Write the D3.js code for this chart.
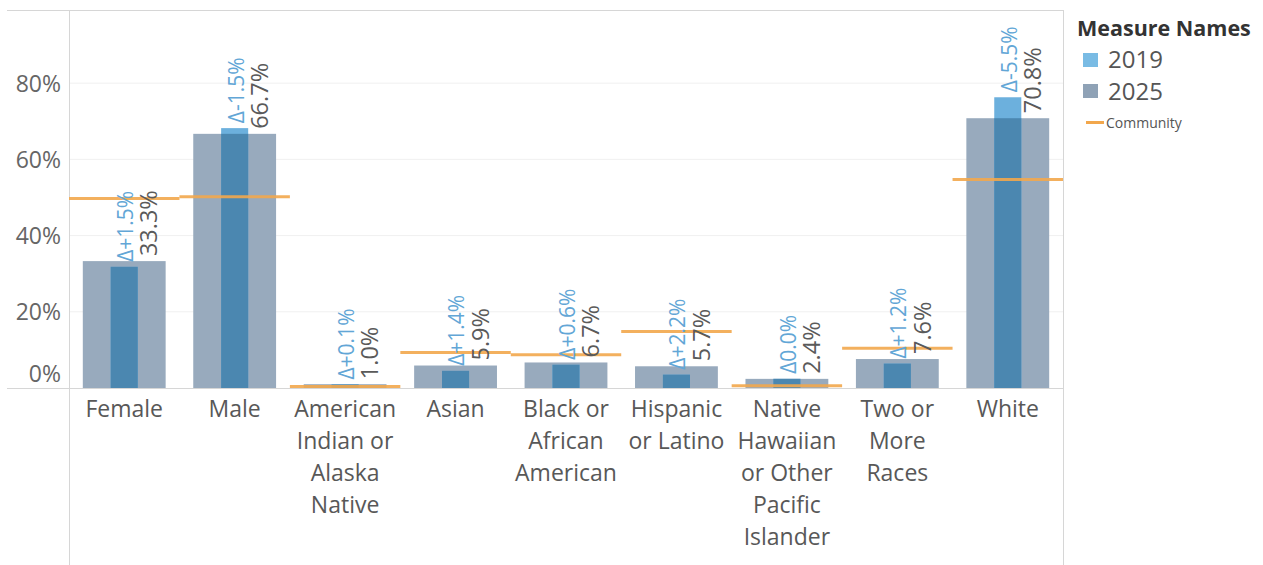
<!DOCTYPE html>
<html>
<head>
<meta charset="utf-8">
<script src="https://cdn.jsdelivr.net/npm/d3@7"></script>
<style>
  body { margin: 0; background: #fff; }
  svg { display: block; font-family: "Open Sans", sans-serif; }
</style>
</head>
<body>
<svg id="chart" width="1263" height="565"></svg>
<script>
// data (percent)
var categories = ['Female', 'Male', 'American\nIndian or\nAlaska\nNative', 'Asian',
	'Black or\nAfrican\nAmerican', 'Hispanic\nor Latino',
	'Native\nHawaiian\nor Other\nPacific\nIslander', 'Two or\nMore\nRaces', 'White'];
var values2025 = [33.3, 66.7, 1.0, 5.9, 6.7, 5.7, 2.4, 7.6, 70.8];
var values2019 = [31.8, 68.2, 0.9, 4.5, 6.1, 3.5, 2.4, 6.4, 76.3];
var community = [49.7, 50.2, 0.4, 9.3, 8.7, 14.8, 0.6, 10.4, 54.7];
var yTicks = [0, 20, 40, 60, 80];
var legendItems = ['2019', '2025'];

var svg = d3.select('#chart');
var plotLeft = 69, plotRight = 1063, plotTop = 10, base = 388;

var x = d3.scaleBand()
	.domain(d3.range(categories.length))
	.range([plotLeft, plotRight])
	.padding(0);
var y = d3.scaleLinear()
	.domain([0, 99.2])
	.range([base, plotTop]);

var bw = x.bandwidth();
var cx = function(i){ return x(i) + bw / 2; };

//gridlines
svg.append('g')
	.selectAll('line')
	.data(yTicks.filter(function(d){ return d > 0; }))
	.enter()
	.append('line')
	.attr('x1', plotLeft).attr('x2', plotRight)
	.attr('y1', function(d){ return y(d); })
	.attr('y2', function(d){ return y(d); })
	.attr('stroke', '#f0f0f0')
	.attr('stroke-width', 1);

//frame lines
var frame = svg.append('g').attr('stroke', '#d6d6d6').attr('stroke-width', 1);
frame.append('line').attr('x1', 7).attr('x2', plotRight).attr('y1', plotTop + 0.5).attr('y2', plotTop + 0.5);
frame.append('line').attr('x1', plotLeft + 0.5).attr('x2', plotLeft + 0.5).attr('y1', plotTop).attr('y2', 565);
frame.append('line').attr('x1', plotRight + 0.5).attr('x2', plotRight + 0.5).attr('y1', plotTop).attr('y2', 565);

//y axis
var yAxis = svg.append('g')
	.attr('transform', 'translate(' + (plotLeft - 8) + ',0)')
	.call(d3.axisLeft(y).tickValues(yTicks).tickSize(0).tickPadding(0)
		.tickFormat(function(d){ return d + '%'; }));
yAxis.select('.domain').remove();
yAxis.selectAll('text')
	.attr('font-family', '"Open Sans", sans-serif')
	.attr('font-size', 23)
	.attr('fill', '#666')
	.attr('dy', function(d){ return d === 0 ? '-0.3em' : '0.35em'; });

//2025 bars
var w25 = bw * 0.75, w19 = bw * 0.245;
svg.append('g')
	.selectAll('rect')
	.data(values2025)
	.enter()
	.append('rect')
	.attr('x', function(d, i){ return cx(i) - w25 / 2; })
	.attr('y', function(d){ return y(d); })
	.attr('width', w25)
	.attr('height', function(d){ return base - y(d); })
	.attr('fill', '#98aabd');

//2019 bars
svg.append('g')
	.selectAll('rect')
	.data(values2019)
	.enter()
	.append('rect')
	.attr('x', function(d, i){ return cx(i) - w19 / 2; })
	.attr('y', function(d){ return y(d); })
	.attr('width', w19)
	.attr('height', function(d){ return base - y(d); })
	.attr('fill', '#6cb0dd');

//overlap part of 2019 inside 2025 looks darker
svg.append('g')
	.selectAll('rect')
	.data(values2019)
	.enter()
	.append('rect')
	.attr('x', function(d, i){ return cx(i) - w19 / 2; })
	.attr('y', function(d, i){ return y(Math.min(d, values2025[i])); })
	.attr('width', w19)
	.attr('height', function(d, i){ return base - y(Math.min(d, values2025[i])); })
	.attr('fill', '#4b87b0');

//baseline
svg.append('line')
	.attr('x1', 7).attr('x2', plotRight)
	.attr('y1', base + 0.5).attr('y2', base + 0.5)
	.attr('stroke', '#d6d6d6');

//community lines
svg.append('g')
	.selectAll('line')
	.data(community)
	.enter()
	.append('line')
	.attr('x1', function(d, i){ return x(i); })
	.attr('x2', function(d, i){ return x(i) + bw; })
	.attr('y1', function(d){ return y(d); })
	.attr('y2', function(d){ return y(d); })
	.attr('stroke', '#f2a74c')
	.attr('stroke-opacity', 0.9)
	.attr('stroke-width', 3);

//labels
function deltaText(i){
	var d = Math.round((values2025[i] - values2019[i]) * 10) / 10;
	if(d === 0) return '\u03940.0%';
	return '\u0394' + (d > 0 ? '+' : '-') + Math.abs(d).toFixed(1) + '%';
}
svg.append('g')
	.selectAll('text')
	.data(values2019)
	.enter()
	.append('text')
	.attr('transform', function(d, i){
		return 'translate(' + (cx(i) + 1.5) + ',' + (y(d) - 5) + ') rotate(-90)';
	})
	.attr('dy', '0.35em')
	.attr('font-size', 21)
	.attr('fill', '#62a6d6')
	.text(function(d, i){ return deltaText(i); });

svg.append('g')
	.selectAll('text')
	.data(values2025)
	.enter()
	.append('text')
	.attr('transform', function(d, i){
		return 'translate(' + (cx(i) + 25) + ',' + (y(d) - 5) + ') rotate(-90)';
	})
	.attr('dy', '0.35em')
	.attr('font-size', 23.5)
	.attr('fill', '#5a5a5a')
	.text(function(d){ return d.toFixed(1) + '%'; });

//category labels
var cat = svg.append('g')
	.selectAll('text')
	.data(categories)
	.enter()
	.append('text')
	.attr('text-anchor', 'middle')
	.attr('font-size', 23)
	.attr('fill', '#585858');
cat.selectAll('tspan')
	.data(function(d, i){ return d.split('\n').map(function(s){ return {s: s, i: i}; }); })
	.enter()
	.append('tspan')
	.attr('x', function(d){ return cx(d.i); })
	.attr('y', function(d, j){ return 417 + j * 32; })
	.text(function(d){ return d.s; });

//legend
var legend = svg.append('g');
legend.append('text')
	.attr('x', 1077).attr('y', 36)
	.attr('font-size', 21.5)
	.attr('font-weight', 'bold')
	.attr('fill', '#333')
	.text('Measure Names');
var swatchColors = ['#79bbe4', '#8fa2b6'];
legend.selectAll('rect')
	.data(legendItems)
	.enter()
	.append('rect')
	.attr('x', 1083)
	.attr('y', function(d, i){ return 53 + i * 31; })
	.attr('width', 15).attr('height', 14)
	.attr('fill', function(d, i){ return swatchColors[i]; });
legend.selectAll('text.item')
	.data(legendItems)
	.enter()
	.append('text')
	.attr('class', 'item')
	.attr('x', 1108)
	.attr('y', function(d, i){ return 68 + i * 32; })
	.attr('font-size', 24)
	.attr('fill', '#555')
	.text(function(d){ return d; });
legend.append('line')
	.attr('x1', 1086).attr('x2', 1104)
	.attr('y1', 122.5).attr('y2', 122.5)
	.attr('stroke', '#f2a74c').attr('stroke-width', 3);
legend.append('text')
	.attr('x', 1106).attr('y', 128)
	.attr('font-size', 14)
	.attr('fill', '#555')
	.text('Community');
</script>
</body>
</html>
